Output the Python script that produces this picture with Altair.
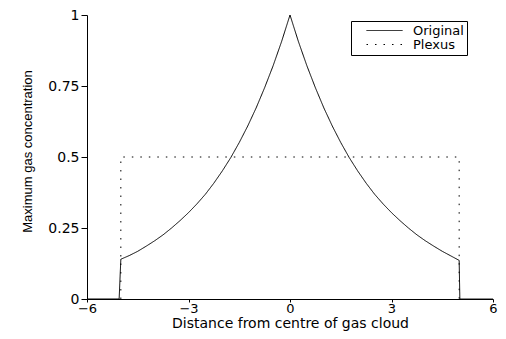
import altair as alt
import pandas as pd

# Original curve
orig_x = [-6.0, -5.05, -5.0, -4.75, -4.5, -4.25, -4.0, -3.75, -3.5, -3.25, -3.0,
          -2.75, -2.5, -2.25, -2.0, -1.75, -1.5, -1.25, -1.0, -0.75, -0.5, -0.25,
          0.0, 0.25, 0.5, 0.75, 1.0, 1.25, 1.5, 1.75, 2.0, 2.25, 2.5, 2.75, 3.0,
          3.25, 3.5, 3.75, 4.0, 4.25, 4.5, 4.75, 5.0, 5.02, 6.0]
orig_y = [0.0, 0.0, 0.140, 0.153, 0.168, 0.186, 0.205, 0.226, 0.250, 0.276, 0.304,
          0.335, 0.369, 0.408, 0.451, 0.498, 0.551, 0.609, 0.673, 0.744, 0.821, 0.906,
          1.0, 0.906, 0.821, 0.744, 0.673, 0.609, 0.551, 0.498, 0.451, 0.408, 0.369,
          0.335, 0.304, 0.276, 0.250, 0.226, 0.205, 0.186, 0.168, 0.152, 0.136, 0.0, 0.0]

# Plexus (dotted)
plexus_x = [-5.0, -5.0, 5.0, 5.0]
plexus_y = [0.0, 0.5, 0.5, 0.0]

series_names = ["Original", "Plexus"]
x_ticks = [-6, -3, 0, 3, 6]
y_ticks = [0, 0.25, 0.5, 0.75, 1]

rows = []
for i, (x, y) in enumerate(zip(plexus_x, plexus_y)):
    rows.append({"x": x, "y": y, "series": "Plexus", "ord": i})
for i, (x, y) in enumerate(zip(orig_x, orig_y)):
    rows.append({"x": x, "y": y, "series": "Original", "ord": i})
df = pd.DataFrame(rows)

FONT = "DejaVu Sans"

chart = alt.Chart(df).mark_line(strokeWidth=1, color="black").encode(
    x=alt.X("x:Q",
            scale=alt.Scale(domain=[-6, 6], nice=False, zero=False),
            axis=alt.Axis(values=x_ticks, format="d", title="Distance from centre of gas cloud",
                          tickSize=3, labelPadding=0, labelFlush=False,
                          labelFontSize=13, titleFontSize=14,
                          titleBaseline="alphabetic", titleY=28)),
    y=alt.Y("y:Q",
            scale=alt.Scale(domain=[0, 1], nice=False),
            axis=alt.Axis(values=y_ticks, labelExpr="toString(datum.value)",
                          title="Maximum gas concentration",
                          tickSize=6, labelPadding=2,
                          labelFontSize=14, titleFontSize=13,
                          titleFont="Liberation Sans",
                          titleX=-60, titleY=136, titleBaseline="middle",
                          titleAlign="center", titleAngle=270)),
    strokeDash=alt.StrokeDash("series:N",
                              scale=alt.Scale(domain=series_names,
                                              range=[[1, 0], [1.5, 7]]),
                              sort=series_names,
                              legend=alt.Legend(title=None, orient="none",
                                                legendX=264, legendY=6,
                                                symbolType="M-3,0H3",
                                                symbolSize=144,
                                                symbolOffset=24,
                                                symbolStrokeColor="black",
                                                symbolFillColor="transparent",
                                                symbolStrokeWidth=1,
                                                labelOffset=22,
                                                labelFontSize=13,
                                                labelFont=FONT,
                                                labelColor="black",
                                                padding=3,
                                                rowPadding=0,
                                                strokeColor="black",
                                                fillColor="white")),
    detail="series:N",
    order="ord:Q",
).properties(
    width=406, height=284,
    autosize=alt.AutoSizeParams(type="none"),
    padding={"left": 79, "top": 7, "right": 5, "bottom": 32},
).configure_view(stroke=None).configure_axis(
    grid=False, domainColor="black", tickColor="black", labelColor="black",
    titleColor="black", titleFontWeight="normal", labelFont=FONT, titleFont=FONT,
    domainWidth=1, tickWidth=1,
)

chart.save("out.html", embed_options={"renderer": "svg", "actions": False})
